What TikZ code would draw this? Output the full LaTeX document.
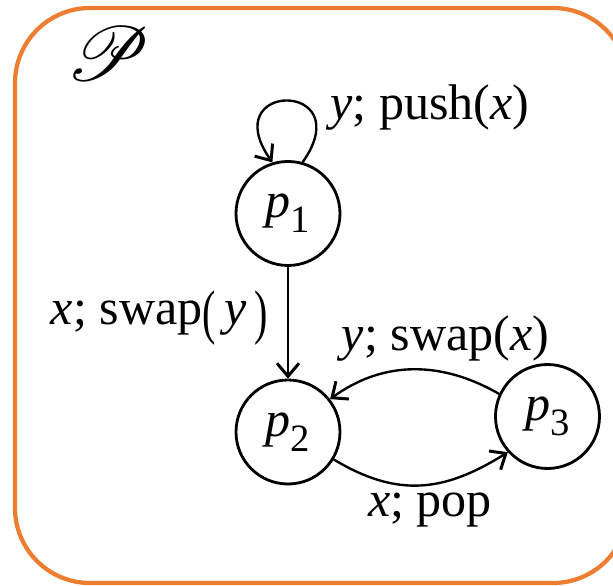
\documentclass[tikz,border=0pt]{standalone}
\usepackage{fontspec}
\setmainfont{Liberation Serif}
\usepackage{mathrsfs}
\usetikzlibrary{arrows.meta}
\definecolor{boxorange}{RGB}{237,125,49}
\newcommand{\pst}[1]{\textit{p}\raisebox{-0.3em}{\fontsize{22}{22}\selectfont #1}}
\newcommand{\bigpar}[1]{\raisebox{-0.14em}{\scalebox{0.8}[1.2]{#1}}}

\begin{document}
\begin{tikzpicture}[>={Straight Barb[length=2.6mm,width=4.4mm,line width=1.7pt]}, scale=1.0,
  font=\fontsize{28.5}{34}\selectfont,
  state/.style={draw, circle, line width=1.6pt, minimum size=2.08cm, inner sep=0pt},
  edge/.style={->, line width=1.35pt},
  lbl/.style={anchor=base, inner sep=0pt}]
  \useasboundingbox (0,0) rectangle (12.26,11.72);
  \clip (0,0) rectangle (12.26,11.72);
  % frame of the automaton, cut off at the right
  \draw[boxorange, line width=0.085cm, rounded corners=1.5cm] (0.30,0.06) rectangle (12.56,11.56);
  \node[inner sep=0pt] (name) at (2.16,10.64) {\scalebox{1.75}{$\mathscr{P}$}};
  % states
  \node[state] (p1) at (5.76,7.45) {\pst{1}};
  \node[state] (p2) at (5.76,3.08) {\pst{2}};
  \node[state] (p3) at (10.95,3.39) {\pst{3}};
  % transitions
  \draw[edge] (p1.74) .. controls +(55:2) and +(125:2) .. (p1.107);
  \draw[edge] (p1) -- (p2);
  \draw[edge] (p3.155) to[out=150, in=36] (p2.38);
  \draw[edge] (p2.-31) to[out=-31, in=212, looseness=1.1] (p3.222);
  % labels
  \node[lbl] (lpush) at (8.60,9.32) {\textit{y}; push(\textit{x})};
  \node[lbl] (lswapy) at (3.19,5.22) {\textit{x}; swap\bigpar{(}\,\textit{y}\,\bigpar{)}};
  \node[lbl] (lswapx) at (8.91,4.70) {\textit{y}; swap(\textit{x})};
  \node[lbl] (lpop) at (8.60,1.38) {\textit{x}; pop};
\end{tikzpicture}
\end{document}
